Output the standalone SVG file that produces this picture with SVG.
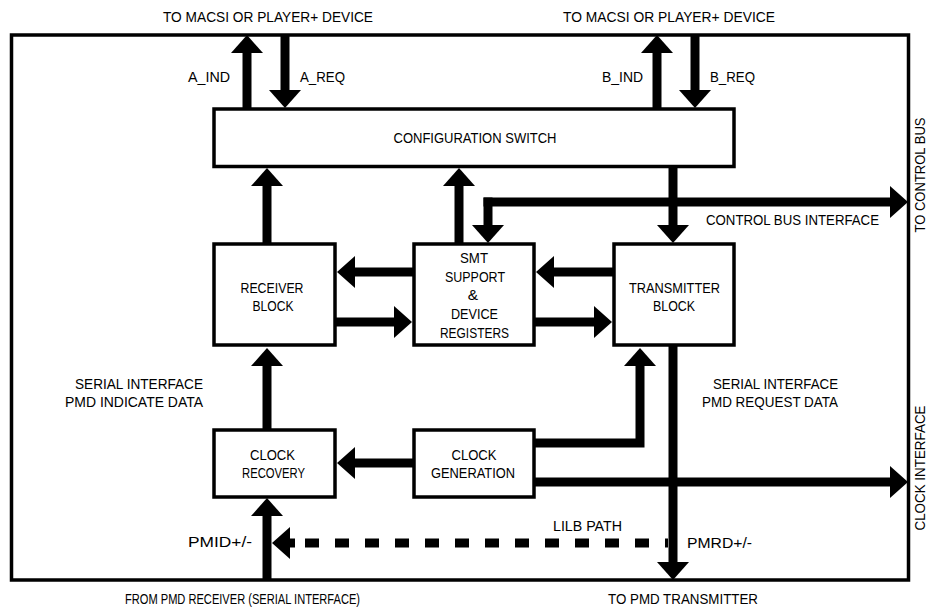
<svg xmlns="http://www.w3.org/2000/svg" width="929" height="607" viewBox="0 0 929 607">
<style>
.box{fill:#fff;stroke:#000;stroke-width:3.5}
.frame{fill:none;stroke:#000;stroke-width:3.5}
.c{fill:none;stroke:#000;stroke-width:9;stroke-linecap:butt;stroke-linejoin:miter}
.d{fill:none;stroke:#000;stroke-width:9;stroke-dasharray:14 16}
text{font-family:"Liberation Sans",Arial,sans-serif;font-size:15.5px;fill:#000}
.m{text-anchor:middle}
.e{text-anchor:end}
.v{font-size:14.5px}
</style>
<defs>
<marker id="ah" markerUnits="userSpaceOnUse" viewBox="0 0 18 32" markerWidth="18" markerHeight="32" refX="0" refY="16" orient="auto">
<path d="M0,0 L18,16 L0,32 Z" fill="#000"/>
</marker>
</defs>
<rect class="frame" x="11.5" y="35" width="897" height="545"/>

<g id="connectors">
<line class="c" x1="247" y1="109" x2="247" y2="53" marker-end="url(#ah)"/>
<line class="c" x1="285" y1="36" x2="285" y2="90" marker-end="url(#ah)"/>
<line class="c" x1="657" y1="109" x2="657" y2="53" marker-end="url(#ah)"/>
<line class="c" x1="695" y1="36" x2="695" y2="90" marker-end="url(#ah)"/>
<line class="c" x1="267" y1="244" x2="267" y2="186" marker-end="url(#ah)"/>
<line class="c" x1="459" y1="244" x2="459" y2="186" marker-end="url(#ah)"/>
<line class="c" x1="673" y1="166" x2="673" y2="225" marker-end="url(#ah)"/>
<line class="c" x1="483.5" y1="202" x2="890" y2="202" marker-end="url(#ah)"/>
<line class="c" x1="488" y1="197.5" x2="488" y2="225" marker-end="url(#ah)"/>
<line class="c" x1="414" y1="272" x2="355" y2="272" marker-end="url(#ah)"/>
<line class="c" x1="335" y1="322" x2="394" y2="322" marker-end="url(#ah)"/>
<line class="c" x1="614" y1="272" x2="554" y2="272" marker-end="url(#ah)"/>
<line class="c" x1="534" y1="322" x2="594" y2="322" marker-end="url(#ah)"/>
<line class="c" x1="267" y1="430" x2="267" y2="366" marker-end="url(#ah)"/>
<line class="c" x1="414" y1="463" x2="355" y2="463" marker-end="url(#ah)"/>
<path class="c" d="M534,443 L640,443 L640,366" marker-end="url(#ah)"/>
<line class="c" x1="673" y1="346" x2="673" y2="562" marker-end="url(#ah)"/>
<line class="c" x1="534" y1="482" x2="890" y2="482" marker-end="url(#ah)"/>
<line class="c" x1="267" y1="580" x2="267" y2="516" marker-end="url(#ah)"/>
<line class="d" x1="305" y1="543" x2="668" y2="543"/>
<line class="c" x1="295" y1="543" x2="290" y2="543" marker-end="url(#ah)"/>
</g>

<g id="config-switch">
<rect class="box" x="214" y="109" width="520" height="57.5"/>
<text class="m" x="475" y="143" textLength="163" lengthAdjust="spacingAndGlyphs">CONFIGURATION SWITCH</text>
</g>
<g id="receiver-block">
<rect class="box" x="214" y="244" width="121" height="101"/>
<text class="m" x="272" y="293" textLength="63" lengthAdjust="spacingAndGlyphs">RECEIVER</text>
<text class="m" x="273" y="311" textLength="41" lengthAdjust="spacingAndGlyphs">BLOCK</text>
</g>
<g id="smt-block">
<rect class="box" x="414" y="244" width="120" height="101"/>
<text class="m" x="474" y="263" textLength="28" lengthAdjust="spacingAndGlyphs">SMT</text>
<text class="m" x="475" y="282" textLength="60" lengthAdjust="spacingAndGlyphs">SUPPORT</text>
<text class="m" x="473" y="300">&amp;</text>
<text class="m" x="474.5" y="319" textLength="47" lengthAdjust="spacingAndGlyphs">DEVICE</text>
<text class="m" x="474.5" y="338" textLength="69" lengthAdjust="spacingAndGlyphs">REGISTERS</text>
</g>
<g id="transmitter-block">
<rect class="box" x="614" y="244" width="120" height="101"/>
<text class="m" x="674.5" y="293" textLength="91" lengthAdjust="spacingAndGlyphs">TRANSMITTER</text>
<text class="m" x="674" y="311" textLength="42" lengthAdjust="spacingAndGlyphs">BLOCK</text>
</g>
<g id="clock-recovery">
<rect class="box" x="214" y="430" width="121" height="67"/>
<text class="m" x="272.5" y="460" textLength="45" lengthAdjust="spacingAndGlyphs">CLOCK</text>
<text class="m" x="273.5" y="478" textLength="63" lengthAdjust="spacingAndGlyphs">RECOVERY</text>
</g>
<g id="clock-generation">
<rect class="box" x="414" y="430" width="120" height="67"/>
<text class="m" x="474" y="460" textLength="45" lengthAdjust="spacingAndGlyphs">CLOCK</text>
<text class="m" x="473" y="478" textLength="84" lengthAdjust="spacingAndGlyphs">GENERATION</text>
</g>

<g id="labels">
<text class="m" x="268" y="22" textLength="210" lengthAdjust="spacingAndGlyphs">TO MACSI OR PLAYER+ DEVICE</text>
<text class="m" x="669" y="22" textLength="212" lengthAdjust="spacingAndGlyphs">TO MACSI OR PLAYER+ DEVICE</text>
<text x="188" y="82" textLength="42" lengthAdjust="spacingAndGlyphs">A_IND</text>
<text x="300" y="82" textLength="45" lengthAdjust="spacingAndGlyphs">A_REQ</text>
<text x="602" y="82" textLength="41" lengthAdjust="spacingAndGlyphs">B_IND</text>
<text x="710" y="82" textLength="45" lengthAdjust="spacingAndGlyphs">B_REQ</text>
<text x="706" y="225" textLength="173" lengthAdjust="spacingAndGlyphs">CONTROL BUS INTERFACE</text>
<text class="e" x="203" y="389" textLength="128" lengthAdjust="spacingAndGlyphs">SERIAL INTERFACE</text>
<text class="e" x="203" y="407" textLength="138" lengthAdjust="spacingAndGlyphs">PMD INDICATE DATA</text>
<text class="e" x="838" y="389" textLength="125" lengthAdjust="spacingAndGlyphs">SERIAL INTERFACE</text>
<text class="e" x="838" y="407" textLength="136" lengthAdjust="spacingAndGlyphs">PMD REQUEST DATA</text>
<text x="553" y="531" textLength="69" lengthAdjust="spacingAndGlyphs">LILB PATH</text>
<text x="188" y="547" textLength="64" lengthAdjust="spacingAndGlyphs">PMID+/-</text>
<text x="687" y="548" textLength="65" lengthAdjust="spacingAndGlyphs">PMRD+/-</text>
<text x="125" y="604" textLength="235" lengthAdjust="spacingAndGlyphs">FROM PMD RECEIVER (SERIAL INTERFACE)</text>
<text x="608" y="604" textLength="150" lengthAdjust="spacingAndGlyphs">TO PMD TRANSMITTER</text>
<text class="m v" transform="translate(925,175) rotate(-90)" textLength="115" lengthAdjust="spacingAndGlyphs">TO CONTROL BUS</text>
<text class="m v" transform="translate(925,468) rotate(-90)" textLength="125" lengthAdjust="spacingAndGlyphs">CLOCK INTERFACE</text>
</g>
</svg>
